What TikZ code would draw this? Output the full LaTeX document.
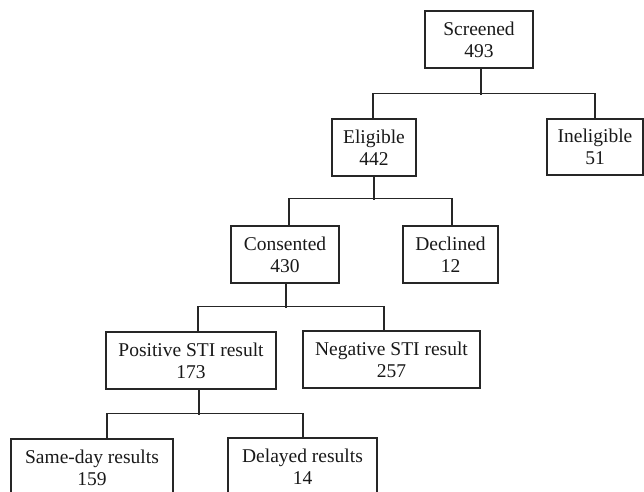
\documentclass[tikz,border=0pt]{standalone}
\usepackage{fontspec}
\setmainfont{Liberation Serif}
\begin{document}
\begin{tikzpicture}[x=1pt,y=-1pt,
  box/.style={draw=black!85,line width=1.5pt,fill=white,align=center,inner sep=0pt,
    font=\fontsize{19.5}{22}\selectfont,text=black!90},
  conn/.style={draw=black!85,line width=1.5pt}]
\useasboundingbox (0,0) rectangle (644,491);
\clip (0,0) rectangle (644,491);
\node[box,minimum width=108pt,minimum height=57pt] (scr) at (479,39.5) {Screened\\493};
\node[box,minimum width=84pt,minimum height=57pt] (eli) at (374,147.5) {Eligible\\442};
\node[box,minimum width=96pt,minimum height=56pt] (inel) at (595,147) {Ineligible\\51};
\node[box,minimum width=108pt,minimum height=57pt] (cons) at (285,254.5) {Consented\\430};
\node[box,minimum width=95pt,minimum height=57pt] (dec) at (450.5,254.5) {Declined\\12};
\node[box,minimum width=170pt,minimum height=57pt] (pos) at (191,360.5) {Positive STI result\\173};
\node[box,minimum width=177pt,minimum height=57pt] (neg) at (391.5,359.5) {Negative STI result\\257};
\node[box,minimum width=162pt,minimum height=57pt] (same) at (92,467.5) {Same-day results\\159};
\node[box,minimum width=149pt,minimum height=57pt] (del) at (302.5,466.5) {Delayed results\\14};
% level 1
\draw[conn] ([xshift=2pt]scr.south) -- ++(0,26);
\draw[conn] ([xshift=-1pt]eli.north) -- ++(0,-25) -| (inel.north);
% level 2
\draw[conn] (eli.south) -- ++(0,23);
\draw[conn] ([xshift=4pt]cons.north) -- ++(0,-27) -| ([xshift=1.5pt]dec.north);
% level 3
\draw[conn] ([xshift=1pt]cons.south) -- ++(0,24);
\draw[conn] ([xshift=7pt]pos.north) -- ++(0,-25) -| ([xshift=-7.5pt]neg.north);
% level 4
\draw[conn] ([xshift=8pt]pos.south) -- ++(0,25);
\draw[conn] ([xshift=15pt]same.north) -- ++(0,-25) -| ([xshift=0.5pt]del.north);
\end{tikzpicture}
\end{document}
